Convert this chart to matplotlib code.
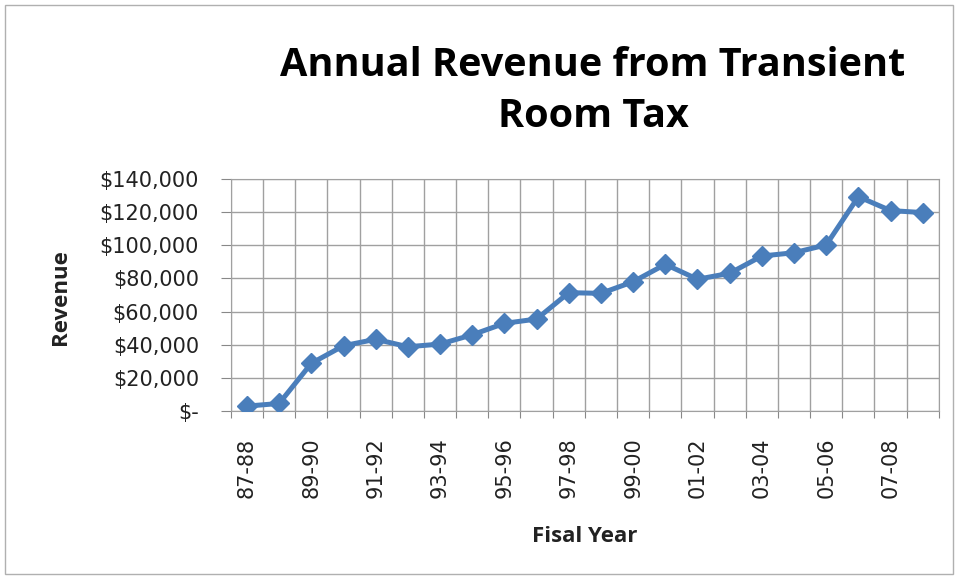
import matplotlib.pyplot as plt
import matplotlib.patches as mpatches

years = ["87-88", "88-89", "89-90", "90-91", "91-92", "92-93", "93-94", "94-95",
         "95-96", "96-97", "97-98", "98-99", "99-00", "00-01", "01-02", "02-03",
         "03-04", "04-05", "05-06", "06-07", "07-08", "08-09"]
revenue = [3000, 4600, 28800, 39400, 43300, 38800, 40400, 46000,
           52900, 55500, 71400, 71000, 78000, 88500, 79500, 83100,
           93500, 95500, 100200, 129300, 120900, 119700]
y_ticks = [0, 20000, 40000, 60000, 80000, 100000, 120000, 140000]
y_labels = ["$-", "$20,000", "$40,000", "$60,000", "$80,000",
            "$100,000", "$120,000", "$140,000"]

plt.rcParams['font.family'] = ['Open Sans', 'DejaVu Sans']

fig = plt.figure(figsize=(9.58, 5.79), dpi=100)
ax = fig.add_axes([0.241, 0.290, 0.739, 0.401])

x = list(range(len(years)))
ax.plot(x, revenue, color="#4a7ebb", lw=3.6, marker="D", markersize=10,
        markerfacecolor="#4a7ebb", markeredgecolor="#4a7ebb", zorder=3)

ax.set_xlim(-0.5, len(years) - 0.5)
ax.set_ylim(0, 140000)

# gridlines on category boundaries, labels on every other year
ax.set_xticks([i - 0.5 for i in range(len(years) + 1)])
ax.set_xticklabels([])
ax.set_xticks(x[::2], minor=True)
ax.set_xticklabels(years[::2], minor=True, rotation=90, fontsize=15,
                   family="DejaVu Sans", color="#222222")
ax.tick_params(axis="x", which="major", length=5, color="#888888", direction="out")
ax.tick_params(axis="x", which="minor", length=0, pad=19)

ax.set_yticks(y_ticks)
ax.set_yticklabels(y_labels, fontsize=15, family="DejaVu Sans", color="#222222")
ax.tick_params(axis="y", length=7, color="#888888", pad=16)

ax.grid(True, which="major", color="#a0a0a0", lw=1)
for s in ax.spines.values():
    s.set_color("#a0a0a0")

fig.text(585 / 958, 1 - 537 / 579, "Fisal Year", ha="center", va="center",
         fontsize=16, fontweight="bold", color="#222222")
fig.text(60 / 958, 1 - 297 / 579, "Revenue", ha="center", va="center",
         rotation=90, fontsize=16, fontweight="bold", color="#222222")

fig.text(0.619, 0.843, "Annual Revenue from Transient\nRoom Tax", ha="center",
         va="center", fontsize=28.5, fontweight="bold", linespacing=1.38)

fig.patches.append(mpatches.Rectangle((0.005, 0.008), 0.99, 0.984, fill=False,
                                      edgecolor="#b0b0b0", lw=1,
                                      transform=fig.transFigure))

fig.savefig("out.png", dpi=100)
